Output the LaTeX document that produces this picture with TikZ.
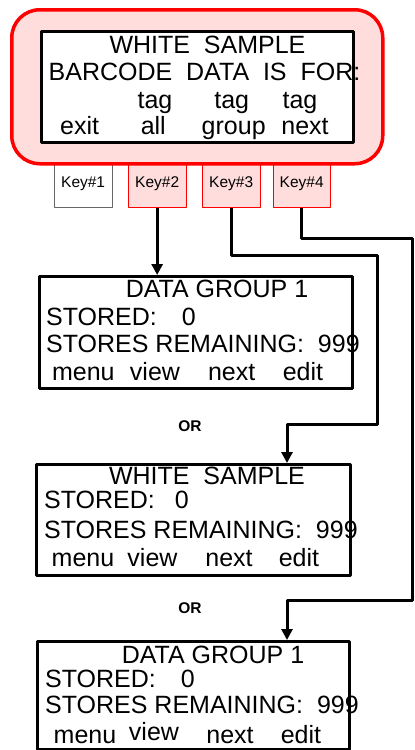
\documentclass[tikz,border=0pt]{standalone}
\usepackage{fontspec}
\setmainfont{Liberation Sans}
\usetikzlibrary{arrows.meta}
\definecolor{keypink}{RGB}{255,221,221}

\begin{document}
\begin{tikzpicture}[x=1pt, y=-1pt, line join=round, >={Triangle[length=11pt,width=11pt]},
  scrtxt/.style={font=\fontsize{25}{28}\selectfont, inner sep=0pt, anchor=base,
    text height=17pt, text depth=0pt},
  scrleft/.style={scrtxt, anchor=base west},
  screen/.style={draw, line width=3pt, anchor=north west, inner sep=0pt},
  keybox/.style={draw=red, fill=keypink, line width=0.8pt, anchor=north west, inner sep=0pt,
    minimum width=57.5pt, minimum height=47pt, font=\fontsize{15.5}{18}\selectfont},
  ortxt/.style={font=\fontsize{15.5}{18}\selectfont\bfseries, inner sep=0pt},
  conn/.style={->, line width=3pt}]
\useasboundingbox (0,0) rectangle (415,750);

% Phim bam
\node[keybox, draw=black!60, fill=white] (key1) at (54,160) {Key\#1};
\node[keybox] (key2) at (128,160) {Key\#2};
\node[keybox] (key3) at (202,160) {Key\#3};
\node[keybox] (key4) at (272.5,160) {Key\#4};

% Khung do va man hinh tren
\node[draw=red, fill=keypink, line width=3.5pt, rounded corners=28pt, anchor=north west,
  minimum width=371pt, minimum height=154pt, inner sep=0pt] (panel) at (10,8) {};
\node[screen, fill=white, minimum width=312pt, minimum height=111pt] (top) at (40,30) {};
\node[scrtxt] (ws0) at (207.5,53) {WHITE~~SAMPLE};
\node[scrtxt] (bc0) at (204.5,80) {BARCODE~~DATA~~IS~~FOR:};
\node[scrtxt] (tag1) at (155,108) {tag};
\node[scrtxt] (tag2) at (231.7,108) {tag};
\node[scrtxt] (tag3) at (300,108) {tag};
\node[scrtxt] (exit) at (79.7,134) {exit};
\node[scrtxt] (all) at (153.3,134) {all};
\node[scrtxt] (group) at (233.7,134) {group};
\node[scrtxt] (nxt0) at (305,134) {next};

% Man hinh 1
\node[screen, minimum width=313pt, minimum height=112pt] (scr1) at (38,275) {};
\node[scrtxt] (dg1) at (217,297) {DATA GROUP 1};
\node[scrleft] (st1) at (46,325) {STORED:\hspace{25pt}0};
\node[scrleft] (rm1) at (46,352) {STORES REMAINING:~~999};
\node[scrtxt] (menu1) at (83.3,380) {menu};
\node[scrtxt] (view1) at (155,380) {view};
\node[scrtxt] (next1) at (231.7,380) {next};
\node[scrtxt] (edit1) at (303,380) {edit};

\node[ortxt] (or1) at (190,426) {OR};

% Man hinh 2
\node[screen, minimum width=314pt, minimum height=111pt] (scr2) at (35,463) {};
\node[scrtxt] (ws2) at (207,484) {WHITE~~SAMPLE};
\node[scrleft] (st2) at (44,508) {STORED:\hspace{20pt}0};
\node[scrleft] (rm2) at (44,538) {STORES REMAINING:~~999};
\node[scrtxt] (menu2) at (83,566.7) {menu};
\node[scrtxt] (view2) at (152.5,566.7) {view};
\node[scrtxt] (next2) at (229,566.7) {next};
\node[scrtxt] (edit2) at (299,566.7) {edit};

\node[ortxt] (or2) at (190,608) {OR};

% Man hinh 3
\node[screen, minimum width=312pt, minimum height=108pt] (scr3) at (36,640) {};
\node[scrtxt] (dg3) at (213,663) {DATA GROUP 1};
\node[scrleft] (st3) at (45,687) {STORED:\hspace{25pt}0};
\node[scrleft] (rm3) at (45,713) {STORES REMAINING:~~999};
\node[scrtxt] (menu3) at (85,743) {menu};
\node[scrtxt] (view3) at (154,740) {view};
\node[scrtxt] (next3) at (230,743) {next};
\node[scrtxt] (edit3) at (301,743) {edit};

% Duong noi
\coordinate (k3a) at (377,255);
\coordinate (k3b) at (287,424);
\coordinate (k4a) at (412,238);
\coordinate (k4b) at (287,600);
\draw[conn] (key2.south) -- (key2.south |- scr1.north);
\draw[conn] (key3.south) |- (k3a) |- (k3b) -- (k3b |- scr2.north);
\draw[conn] (key4.south) |- (k4a) |- (k4b) -- (k4b |- scr3.north);
\end{tikzpicture}
\end{document}
